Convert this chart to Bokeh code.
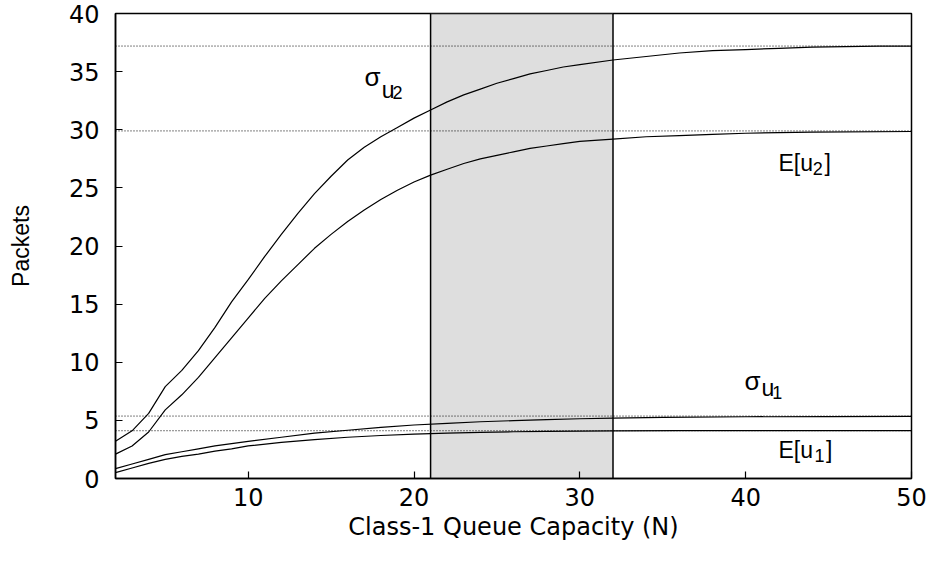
from bokeh.plotting import figure
from bokeh.models import Range1d, FixedTicker, Span, BoxAnnotation, Label
from bokeh.embed import file_html
from bokeh.resources import INLINE

# ---- data ----
n_sigma_u2 = [2, 3, 4, 5, 6, 7, 8, 9, 10, 11, 12, 13, 14, 15, 16, 17, 18, 19, 20,
              21, 22, 23, 24, 25, 26, 27, 28, 29, 30, 32, 34, 36, 38, 40, 42, 44, 46, 48, 50]
sigma_u2 = [3.2, 4.1, 5.6, 7.9, 9.3, 11.0, 13.0, 15.2, 17.1, 19.1, 21.0, 22.8, 24.5, 26.0,
            27.4, 28.5, 29.4, 30.2, 31.0, 31.7, 32.4, 33.0, 33.5, 34.0, 34.4, 34.8, 35.1,
            35.4, 35.6, 36.0, 36.3, 36.6, 36.8, 36.9, 37.0, 37.1, 37.15, 37.2, 37.2]

n_e_u2 = [2, 3, 4, 5, 6, 7, 8, 9, 10, 11, 12, 13, 14, 15, 16, 17, 18, 19, 20,
          21, 22, 23, 24, 25, 26, 27, 28, 29, 30, 32, 34, 36, 38, 40, 44, 50]
e_u2 = [2.1, 2.8, 4.0, 5.9, 7.2, 8.7, 10.4, 12.1, 13.8, 15.5, 17.0, 18.4, 19.8, 21.0,
        22.1, 23.1, 24.0, 24.8, 25.5, 26.1, 26.6, 27.1, 27.5, 27.8, 28.1, 28.4, 28.6,
        28.8, 29.0, 29.2, 29.4, 29.5, 29.6, 29.7, 29.8, 29.85]

n_sigma_u1 = [2, 3, 4, 5, 6, 7, 8, 9, 10, 12, 14, 16, 18, 20, 22, 24, 26, 28, 30, 32,
              35, 40, 45, 50]
sigma_u1 = [0.85, 1.25, 1.65, 2.05, 2.3, 2.55, 2.8, 3.0, 3.2, 3.55, 3.9, 4.15, 4.4,
            4.6, 4.75, 4.88, 4.98, 5.07, 5.14, 5.2, 5.26, 5.31, 5.33, 5.35]

n_e_u1 = [2, 3, 4, 5, 6, 7, 8, 9, 10, 12, 14, 16, 18, 20, 22, 24, 26, 28, 30, 32, 36,
          40, 50]
e_u1 = [0.5, 0.9, 1.3, 1.65, 1.9, 2.1, 2.35, 2.55, 2.8, 3.1, 3.35, 3.55, 3.7, 3.82,
        3.9, 3.97, 4.02, 4.05, 4.08, 4.1, 4.11, 4.11, 4.11]

asymptotes = [37.2, 29.9, 5.37, 4.11]
shade_left, shade_right = 21, 32

x_ticks = [10, 20, 30, 40, 50]
y_ticks = [0, 5, 10, 15, 20, 25, 30, 35, 40]
x_label = "Class-1 Queue Capacity (N)"
y_label = "Packets"

# ---- figure ----
p = figure(width=933, height=566, x_range=Range1d(2, 50), y_range=Range1d(0, 40),
           output_backend="svg", toolbar_location=None,
           min_border_left=115, min_border_right=22, min_border_top=13,
           min_border_bottom=88)
p.background_fill_color = "white"
p.border_fill_color = "white"
p.outline_line_color = "black"
p.outline_line_alpha = 1.0
p.outline_line_width = 1.5
p.grid.visible = False

for ax, ticks in ((p.xaxis[0], x_ticks), (p.yaxis[0], y_ticks)):
    ax.ticker = FixedTicker(ticks=ticks)
    ax.major_tick_in = 7
    ax.major_tick_out = 0
    ax.minor_tick_line_color = None
    ax.axis_line_width = 1.5
    ax.axis_line_color = "black"
    ax.major_tick_line_width = 1.2
    ax.major_tick_line_color = "black"
    ax.major_label_text_font = "DejaVu Sans"
    ax.major_label_text_font_size = "24px"
    ax.major_label_text_color = "black"
    ax.axis_label_text_color = "black"
    ax.axis_label_text_font_style = "normal"

p.xaxis.major_label_standoff = 9
p.yaxis.major_label_standoff = 16
p.xaxis.axis_label = x_label
p.xaxis.axis_label_text_font = "DejaVu Sans"
p.xaxis.axis_label_text_font_size = "24px"
p.xaxis.axis_label_standoff = 4
p.yaxis.axis_label = y_label
p.yaxis.axis_label_text_font = "Liberation Sans"
p.yaxis.axis_label_text_font_size = "23px"
p.yaxis.axis_label_standoff = 32

# shaded region
p.add_layout(BoxAnnotation(left=shade_left, right=shade_right, fill_color="#dedede",
                           fill_alpha=1.0, line_color="black", line_alpha=1.0,
                           line_width=1.5, level="underlay"))

# dotted asymptotes
for a in asymptotes:
    p.add_layout(Span(location=a, dimension="width", line_color="black",
                      line_width=1, line_dash="1 2"))

# curves
for xs, ys in ((n_sigma_u2, sigma_u2), (n_e_u2, e_u2), (n_sigma_u1, sigma_u1), (n_e_u1, e_u1)):
    p.line(xs, ys, line_color="black", line_width=1.2)

# curve labels (text, x, y, size)
pieces = [
    ("σ", 17.02, 34.5, "26px"), ("u", 18.05, 33.4, "23px"), ("2", 18.70, 33.2, "18px"),
    ("σ", 39.93, 8.35, "26px"), ("u", 40.96, 7.75, "23px"), ("1", 41.60, 7.4, "18px"),
    ("E[u", 41.98, 27.18, "23px"), ("2", 44.05, 26.67, "18px"), ("]", 44.75, 27.18, "23px"),
    ("E[u", 41.98, 2.41, "23px"), ("1", 44.15, 1.98, "18px"), ("]", 44.85, 2.41, "23px"),
]
for t, x, y, s in pieces:
    p.add_layout(Label(x=x, y=y, text=t, text_align="left", text_baseline="alphabetic",
                       text_color="black", text_font="Liberation Sans", text_font_size=s))

open("out.html", "w").write(file_html(p, INLINE))
